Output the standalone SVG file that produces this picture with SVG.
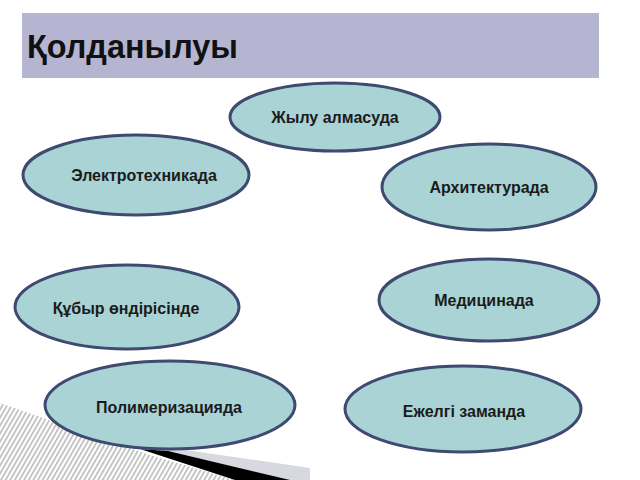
<svg xmlns="http://www.w3.org/2000/svg" width="640" height="480" viewBox="0 0 640 480">
<defs>
<pattern id="hatch" width="4" height="4" patternUnits="userSpaceOnUse" patternTransform="rotate(30)">
<rect width="4" height="4" fill="#ffffff"/>
<rect width="1.6" height="4" fill="#b8b8b8"/>
</pattern>
<style>
.node ellipse{fill:#a9d3d5;stroke:#3f4a70;stroke-width:3}
.node text{font-family:"Liberation Sans",Arial,sans-serif;font-size:16px;font-weight:bold;fill:#1b1b1b;text-anchor:middle;dominant-baseline:central}
</style>
</defs>
<rect width="640" height="480" fill="#ffffff"/>
<g id="decor">
<polygon points="0,403 150,455 235,480 0,480" fill="url(#hatch)"/>
<polygon points="145,444 310,468 310,480 250,480 160,450" fill="#d8d8e0"/>
<polygon points="140,449 168,451 290,480 235,480" fill="#000000"/>
</g>
<g id="title">
<rect x="22" y="13" width="577" height="65" fill="#b5b5d1"/>
<text x="27" y="58" font-family="Liberation Sans, Arial, sans-serif" font-size="33" font-weight="bold" fill="#111111" textLength="211" lengthAdjust="spacingAndGlyphs">Қолданылуы</text>
</g>
<g id="connectors"/>
<g id="n1" class="node"><ellipse cx="335" cy="117" rx="105" ry="34"/><text x="335" y="117">Жылу алмасуда</text></g>
<g id="n2" class="node"><ellipse cx="136" cy="175" rx="113" ry="40"/><text x="144" y="175">Электротехникада</text></g>
<g id="n3" class="node"><ellipse cx="489" cy="187" rx="107" ry="43"/><text x="489" y="187">Архитектурада</text></g>
<g id="n4" class="node"><ellipse cx="127" cy="307" rx="112" ry="42"/><text x="126" y="308">Құбыр өндірісінде</text></g>
<g id="n5" class="node"><ellipse cx="489" cy="300" rx="110" ry="41"/><text x="484" y="300">Медицинада</text></g>
<g id="n6" class="node"><ellipse cx="170" cy="405" rx="125" ry="44"/><text x="169" y="407">Полимеризацияда</text></g>
<g id="n7" class="node"><ellipse cx="463" cy="409" rx="118" ry="43"/><text x="464" y="411">Ежелгі заманда</text></g>
</svg>
